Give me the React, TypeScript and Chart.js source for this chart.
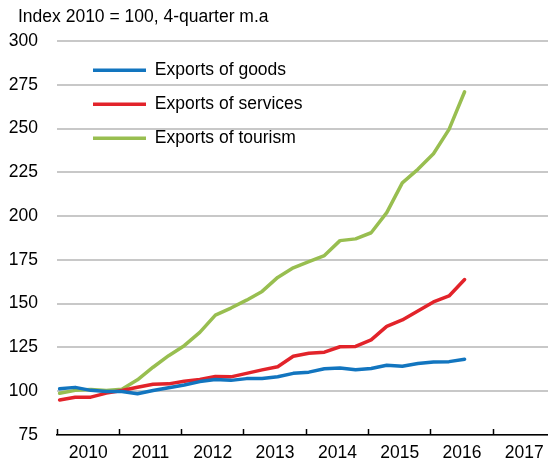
import React, { useEffect, useRef } from 'react';
import { Chart, registerables } from 'chart.js';

Chart.register(...registerables);

const quarters = [
  '2010Q1', '2010Q2', '2010Q3', '2010Q4',
  '2011Q1', '2011Q2', '2011Q3', '2011Q4',
  '2012Q1', '2012Q2', '2012Q3', '2012Q4',
  '2013Q1', '2013Q2', '2013Q3', '2013Q4',
  '2014Q1', '2014Q2', '2014Q3', '2014Q4',
  '2015Q1', '2015Q2', '2015Q3', '2015Q4',
  '2016Q1', '2016Q2', '2016Q3',
];

const goods = [101.4, 102.2, 100.5, 99.9, 99.8, 98.6, 100.4, 102.0, 103.6, 105.5, 106.7, 106.2, 107.2, 107.3, 108.3, 110.2, 110.9, 112.8, 113.3, 112.2, 113.0, 114.8, 114.3, 115.8, 116.7, 116.9, 118.2];
const services = [95.0, 96.6, 96.6, 98.9, 100.4, 102.3, 104.0, 104.2, 105.7, 106.7, 108.4, 108.2, 110.2, 112.2, 114.0, 120.0, 121.7, 122.3, 125.4, 125.6, 129.3, 137.0, 140.7, 145.8, 151.0, 154.4, 163.8];
const tourism = [98.8, 100.5, 101.0, 100.4, 101.1, 106.5, 113.7, 120.3, 126.0, 133.6, 143.5, 147.5, 152.0, 157.0, 165.0, 170.5, 174.0, 177.5, 186.0, 187.0, 190.5, 202.0, 219.0, 226.7, 235.6, 249.5, 271.0];

const yearLabels = ['2010', '2011', '2012', '2013', '2014', '2015', '2016', '2017'];
const seriesNames = ['Exports of goods', 'Exports of services', 'Exports of tourism'];
const unitTitle = 'Index 2010 = 100, 4-quarter m.a';

const FONT = '"Liberation Sans", Arial, sans-serif';
const FS = 17.5;

// quarter -> position on a continuous year axis (middle of the quarter's first month)
function quarterToX(q: string): number {
  const y = Number(q.slice(0, 4));
  const n = Number(q.slice(5));
  return y + (n - 1) / 4 + 1 / 24;
}

function toPoints(values: number[]) {
  return values.map((v, i) => ({ x: quarterToX(quarters[i]), y: v }));
}

const boxShift = {
  id: 'boxShift',
  afterLayout(chart: any) {
    const lg = chart.legend;
    const ca = chart.chartArea;
    if (lg) {
      const h = lg.bottom - lg.top;
      const w = lg.right - lg.left;
      lg.left = ca.left + 19.5;
      lg.right = lg.left + w;
      lg.top = ca.top + 4;
      lg.bottom = lg.top + h;
    }
    const tb = chart.titleBlock;
    if (tb) {
      tb.left += 10;
      tb.right += 10;
    }
  },
};

export default function App() {
  const ref = useRef<HTMLCanvasElement | null>(null);

  useEffect(() => {
    if (!ref.current) return;
    const colors = ['#1275BF', '#E2232A', '#98BE50'];
    const seriesValues = [goods, services, tourism];
    const chart = new Chart(ref.current, {
      type: 'line',
      data: {
        datasets: seriesValues.map((vals, i) => ({
          label: seriesNames[i],
          data: toPoints(vals),
          borderColor: colors[i],
          backgroundColor: colors[i],
          borderWidth: 3.5,
          pointRadius: 0,
          tension: 0,
          borderJoinStyle: 'round',
          borderCapStyle: 'round',
        })),
      },
      options: {
        animation: false,
        responsive: false,
        maintainAspectRatio: false,
        layout: { padding: { left: 8, right: 0, top: 0, bottom: 0 } },
        plugins: {
          title: {
            display: true,
            text: unitTitle,
            align: 'start',
            color: '#000',
            font: { family: FONT, size: FS, weight: 'normal' },
            padding: { top: 7, bottom: 13 },
          },
          legend: {
            position: 'chartArea',
            align: 'start',
            labels: {
              color: '#000',
              font: { family: FONT, size: FS },
              usePointStyle: true,
              pointStyle: 'line',
              pointStyleWidth: 53,
              padding: 16.5,
            },
          },
          tooltip: { enabled: false },
        },
        scales: {
          x: {
            type: 'linear',
            min: 2010,
            max: 2017.88,
            afterBuildTicks: (scale: any) => {
              const t: any[] = [];
              yearLabels.forEach((y) => {
                t.push({ value: Number(y) });
                t.push({ value: Number(y) + 0.5 });
              });
              scale.ticks = t;
            },
            afterFit: (scale: any) => {
              scale.height = 30;
              scale.paddingLeft = 0;
              scale.paddingRight = 0;
            },
            border: { display: true, color: '#000', width: 1.5 },
            grid: {
              drawOnChartArea: false,
              drawTicks: true,
              tickLength: -6,
              tickWidth: 1.5,
              color: (ctx: any) =>
                ctx.tick && Number.isInteger(ctx.tick.value) ? '#000' : 'rgba(0,0,0,0)',
            },
            ticks: {
              autoSkip: false,
              maxRotation: 0,
              padding: 14,
              color: '#000',
              font: { family: FONT, size: FS },
              callback: (value: any) => {
                const lbl = yearLabels.find((y) => Number(y) + 0.5 === Number(value));
                return lbl ?? '';
              },
            },
          },
          y: {
            min: 75,
            max: 300,
            afterFit: (scale: any) => {
              scale.width = 49;
            },
            border: { display: false },
            grid: { color: '#C8C8C8', lineWidth: 2, drawTicks: false },
            ticks: {
              stepSize: 25,
              padding: 19,
              color: '#000',
              font: { family: FONT, size: FS },
            },
          },
        },
      },
      plugins: [boxShift],
    } as any);
    return () => chart.destroy();
  }, []);

  return (
    <div style={{ position: 'absolute', left: 0, top: 0, width: 548, height: 465, background: '#fff' }}>
      <canvas ref={ref} width={548} height={465} style={{ width: 548, height: 465, display: 'block' }} />
    </div>
  );
}
